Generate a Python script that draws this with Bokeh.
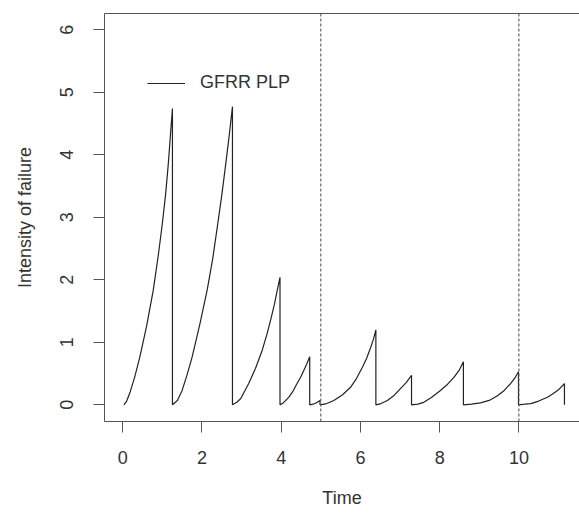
from bokeh.plotting import figure
from bokeh.models import Range1d, FixedTicker, LinearAxis, Span, Legend, LegendItem
from bokeh.embed import file_html
from bokeh.resources import INLINE

# Intensity path (GFRR PLP); vertical drops at each failure
time = [0.03, 0.10, 0.19, 0.30, 0.43, 0.60, 0.77, 0.90, 1.00, 1.08, 1.15, 1.20, 1.255, 1.255,
        1.38, 1.50, 1.62, 1.75, 1.94, 2.13, 2.27, 2.40, 2.50, 2.60, 2.69, 2.77, 2.77,
        2.88, 2.98, 3.18, 3.35, 3.52, 3.65, 3.75, 3.83, 3.90, 3.97, 3.97,
        4.05, 4.19, 4.30, 4.40, 4.49, 4.57, 4.65, 4.72, 4.72,
        4.80, 4.88, 4.98, 4.98,
        5.15, 5.33, 5.55, 5.75, 5.90, 6.05, 6.16, 6.26, 6.33, 6.39, 6.39,
        6.52, 6.68, 6.85, 7.01, 7.16, 7.29, 7.29,
        7.45, 7.60, 7.80, 8.02, 8.20, 8.36, 8.49, 8.60, 8.60,
        8.80, 9.03, 9.25, 9.45, 9.63, 9.79, 9.90, 9.99, 9.99,
        10.15, 10.30, 10.50, 10.72, 10.87, 11.00, 11.15, 11.15]
intensity = [0.00, 0.06, 0.21, 0.44, 0.76, 1.25, 1.83, 2.40, 2.90, 3.35, 3.85, 4.28, 4.74, 0.00,
             0.07, 0.23, 0.47, 0.76, 1.27, 1.83, 2.33, 2.90, 3.35, 3.85, 4.32, 4.77, 0.00,
             0.04, 0.10, 0.34, 0.58, 0.87, 1.15, 1.40, 1.61, 1.83, 2.04, 0.00,
             0.03, 0.12, 0.22, 0.34, 0.44, 0.55, 0.66, 0.77, 0.00,
             0.01, 0.03, 0.07, 0.00,
             0.02, 0.07, 0.16, 0.28, 0.42, 0.60, 0.75, 0.92, 1.05, 1.20, 0.00,
             0.02, 0.07, 0.15, 0.26, 0.36, 0.47, 0.00,
             0.01, 0.04, 0.12, 0.23, 0.33, 0.44, 0.55, 0.69, 0.00,
             0.01, 0.03, 0.07, 0.14, 0.23, 0.34, 0.43, 0.53, 0.00,
             0.01, 0.02, 0.06, 0.12, 0.18, 0.24, 0.34, 0.00]
pm_times = [5, 10]
x_ticks = [0, 2, 4, 6, 8, 10]
y_ticks = [0, 1, 2, 3, 4, 5, 6]
series_label = "GFRR PLP"

FONT = "Liberation Sans"
AX = "#555555"
TXT = "#333333"

p = figure(width=579, height=514, output_backend="svg", toolbar_location=None,
           x_range=Range1d(-0.46, 11.53), y_range=Range1d(-0.267, 6.26),
           min_border_left=104, min_border_right=0, min_border_top=13,
           min_border_bottom=93, x_axis_label="Time",
           y_axis_label="Intensity of failure")
p.grid.visible = False
p.outline_line_color = None
p.background_fill_color = "white"
p.border_fill_color = "white"

r = p.line(time, intensity, line_color="#222222", line_width=1.2)

for t in pm_times:
    p.add_layout(Span(location=t, dimension="height", line_dash="3 2",
                      line_color=AX, line_width=1.1))

for ax, ticks in ((p.xaxis[0], x_ticks), (p.yaxis[0], y_ticks)):
    ax.ticker = FixedTicker(ticks=ticks)
    ax.minor_tick_line_color = None
    ax.major_tick_out = 11
    ax.major_tick_in = 0
    ax.axis_line_color = AX
    ax.major_tick_line_color = AX
    ax.major_label_text_font = FONT
    ax.major_label_text_font_size = "18px"
    ax.major_label_text_color = TXT
    ax.axis_label_text_font = FONT
    ax.axis_label_text_font_size = "18px"
    ax.axis_label_text_font_style = "normal"
    ax.axis_label_text_color = TXT

p.xaxis[0].major_label_standoff = 18
p.xaxis[0].axis_label_standoff = 21
p.yaxis[0].major_label_orientation = "vertical"
p.yaxis[0].major_label_standoff = 20
p.yaxis[0].axis_label_standoff = 23

top = LinearAxis(ticker=FixedTicker(ticks=[]), axis_line_color=AX,
                 major_tick_out=0, major_tick_in=0, minor_tick_line_color=None,
                 major_label_text_alpha=0)
p.add_layout(top, "above")

legend = Legend(items=[LegendItem(label=series_label, renderers=[r])],
                location=(43, 328), border_line_color=None,
                background_fill_alpha=0, padding=0, margin=0,
                glyph_width=38, glyph_height=18, label_height=18,
                label_standoff=15, label_text_font=FONT,
                label_text_font_size="18px", label_text_color=TXT)
p.add_layout(legend)

open("out.html", "w").write(file_html(p, INLINE))
